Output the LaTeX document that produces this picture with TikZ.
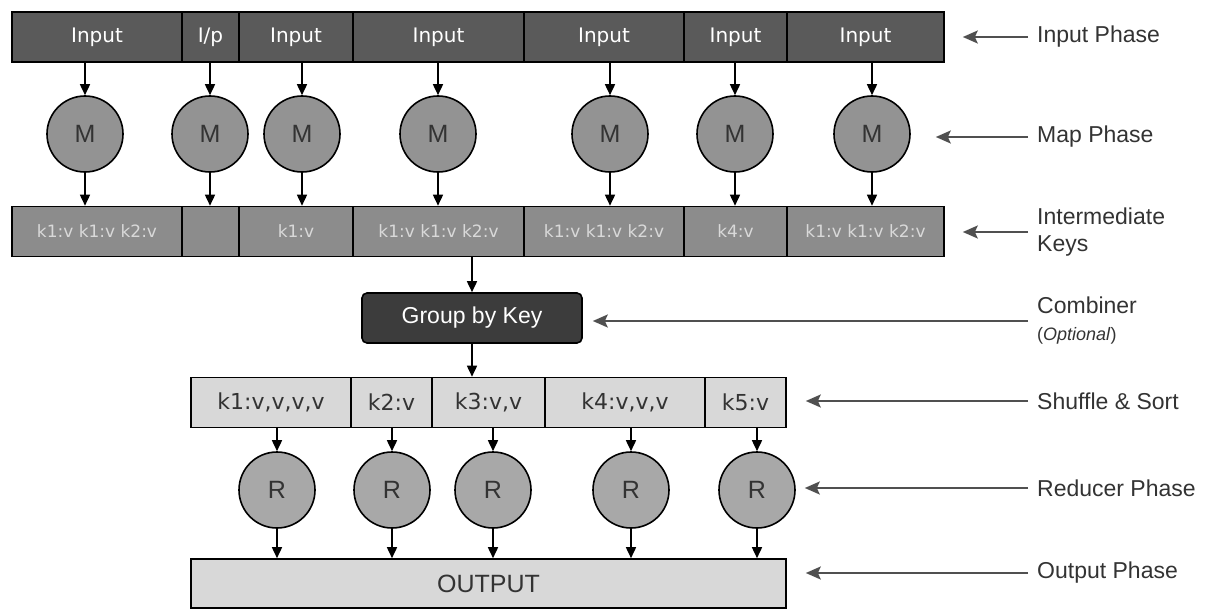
\documentclass[tikz,border=0pt]{standalone}
\usepackage{fontspec}
\setmainfont{Liberation Sans}
\newfontfamily\verdfont{DejaVu Sans}
\usepackage{tikz}
\usetikzlibrary{arrows.meta, positioning, calc}
\definecolor{inputgray}{HTML}{5A5A5A}
\definecolor{mapgray}{HTML}{939393}
\definecolor{keygray}{HTML}{8C8C8C}
\definecolor{keytext}{HTML}{D9D9D9}
\definecolor{groupgray}{HTML}{3C3C3C}
\definecolor{shufgray}{HTML}{D8D8D8}
\definecolor{redgray}{HTML}{A8A8A8}
\definecolor{labgray}{HTML}{333333}
\definecolor{pointgray}{HTML}{505050}

\begin{document}
\begin{tikzpicture}[x=1pt, y=-1pt, >={Triangle[length=11pt,width=10pt]}, every node/.style={inner sep=0pt}]
    \tikzset{cell/.style={rectangle, draw, line width=1.6pt, minimum height=50pt},
        incell/.style={cell, fill=inputgray, text=white, font=\verdfont\fontsize{20}{24}\selectfont},
        keycell/.style={cell, fill=keygray, text=keytext, font=\verdfont\fontsize{17}{20}\selectfont},
        shufcell/.style={cell, fill=shufgray, text=labgray, font=\verdfont\fontsize{22}{24}\selectfont},
        worker/.style={circle, draw, line width=1.6pt, minimum size=76pt, text=labgray, font=\fontsize{25}{28}\selectfont},
        flow/.style={->, line width=1.6pt},
        lab/.style={anchor=west, align=left, text=labgray, font=\fontsize{23}{27}\selectfont},
        pointer/.style={-{Stealth[length=15pt,width=13pt,inset=3pt]}, draw=pointgray, line width=2.2pt, shorten <=9pt}}
    \useasboundingbox (0,0) rectangle (1208,610);
    % input phase
    \foreach \i/\cx/\w/\t in {1/97/170/Input, 2/210.5/57/{I/p}, 3/296/114/Input, 4/438.5/171/Input, 5/604/160/Input, 6/735.5/103/Input, 7/865.5/157/Input}
        \node[incell, minimum width=\w pt] (in\i) at (\cx,37) {\t};
    % mappers
    \foreach \i/\cx in {1/85, 2/210, 3/302, 4/438, 5/610, 6/735, 7/872}
        \node[worker, fill=mapgray] (m\i) at (\cx,134) {M};
    % intermediate keys
    \foreach \i/\cx/\w/\t in {1/97/170/{k1:v k1:v k2:v}, 2/210.5/57/{}, 3/296/114/{k1:v}, 4/438.5/171/{k1:v k1:v k2:v}, 5/604/160/{k1:v k1:v k2:v}, 6/735.5/103/{k4:v}, 7/865.5/157/{k1:v k1:v k2:v}}
        \node[keycell, minimum width=\w pt] (ik\i) at (\cx,231.5) {\t};
    \foreach \i in {1,...,7} {
        \draw[flow] (in\i.south -| m\i) -- (m\i.north);
        \draw[flow] (m\i.south) -- (m\i |- ik\i.north);
    }
    % combiner
    \node[rectangle, rounded corners=5pt, draw, line width=1.6pt, fill=groupgray, text=white, minimum width=220pt, minimum height=50pt, font=\fontsize{23}{26}\selectfont] (grp) at (472,318) {Group by Key};
    % shuffle and sort
    \foreach \i/\cx/\w/\t in {1/271/160/{k1:v,v,v,v}, 2/391.5/81/{k2:v}, 3/488.5/113/{k3:v,v}, 4/625/160/{k4:v,v,v}, 5/745.5/81/{k5:v}}
        \node[shufcell, minimum width=\w pt] (sh\i) at (\cx,402.5) {\t};
    \draw[flow] (ik4.south -| grp) -- (grp.north);
    \draw[flow] (grp.south) -- (grp |- sh3.north);
    % reducers
    \foreach \i/\cx in {1/277, 2/392, 3/493, 4/631, 5/757}
        \node[worker, fill=redgray] (r\i) at (\cx,490) {R};
    \node[cell, fill=shufgray, minimum width=595pt, minimum height=49pt, text=labgray, font=\fontsize{25}{28}\selectfont] (out) at (488.5,583.5) {OUTPUT};
    \foreach \i in {1,...,5} {
        \draw[flow] (sh\i.south -| r\i) -- (r\i.north);
        \draw[flow] (r\i.south) -- (r\i |- out.north);
    }
    % phase labels
    \node[lab] (lInput) at (1037,37) {Input Phase};
    \node[lab] (lMap) at (1037,137) {Map Phase};
    \node[lab] (lKeys) at (1037,232) {Intermediate\\Keys};
    \node[lab] (lComb) at (1037,321) {Combiner\\{\fontsize{18}{20}\selectfont(\textit{Optional})}};
    \node[lab] (lShuf) at (1037,401) {Shuffle \& Sort};
    \node[lab] (lRed) at (1037,488) {Reducer Phase};
    \node[lab] (lOut) at (1037,573) {Output Phase};
    \draw[pointer, shorten >=18pt] (lInput.west) -- (lInput.west -| in7.east);
    \draw[pointer, shorten >=25pt] (lMap.west) -- (lMap.west -| m7.east);
    \draw[pointer, shorten >=18pt] (lKeys.west) -- (lKeys.west -| ik7.east);
    \draw[pointer, shorten >=10pt] (lComb.west) -- (lComb.west -| grp.east);
    \draw[pointer, shorten >=19pt] (lShuf.west) -- (lShuf.west -| sh5.east);
    \draw[pointer, shorten >=9pt] (lRed.west) -- (lRed.west -| r5.east);
    \draw[pointer, shorten >=19pt] (lOut.west) -- (lOut.west -| out.east);
\end{tikzpicture}
\end{document}
